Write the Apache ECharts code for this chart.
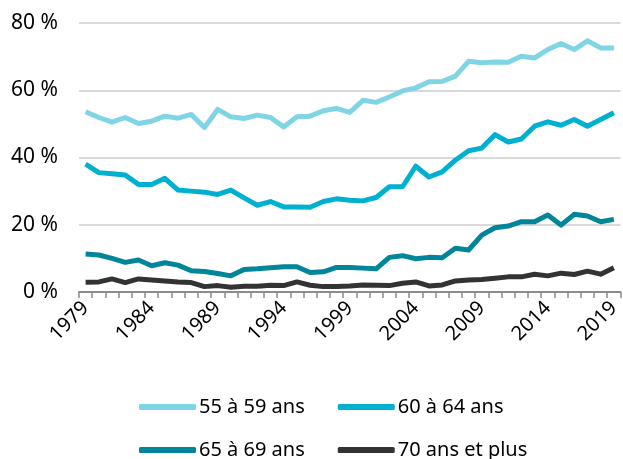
<!DOCTYPE html>
<html>
<head>
<meta charset="utf-8">
<script src="https://cdn.jsdelivr.net/npm/echarts@6/dist/echarts.min.js"></script>
<style>
  html, body { margin: 0; padding: 0; background: #fff; }
  #chart { width: 623px; height: 459px; }
</style>
</head>
<body>
<div id="chart"></div>
<script>
const years = [];
for (let y = 1979; y <= 2019; y++) years.push(String(y));

const yTicks = [0, 20, 40, 60, 80];

const s55 = [53.6, 51.9, 50.5, 51.9, 50.1, 50.8, 52.3, 51.7, 52.8, 48.9,
  54.3, 52.1, 51.6, 52.6, 51.9, 49.1, 52.1, 52.3, 53.9, 54.6,
  53.4, 57.0, 56.4, 58.0, 59.8, 60.7, 62.5, 62.6, 64.2, 68.6,
  68.2, 68.4, 68.3, 70.1, 69.6, 72.1, 73.9, 72.1, 74.7, 72.6, 72.6];
const s60 = [38.0, 35.5, 35.2, 34.8, 32.0, 32.0, 33.8, 30.3, 30.0, 29.7,
  29.0, 30.3, 28.0, 25.8, 26.9, 25.3, 25.3, 25.2, 26.9, 27.7,
  27.3, 27.1, 28.1, 31.3, 31.3, 37.4, 34.2, 35.7, 39.2, 42.0,
  42.8, 46.8, 44.6, 45.5, 49.3, 50.6, 49.6, 51.3, 49.3, 51.3, 53.3];
const s65 = [11.3, 11.0, 10.0, 8.8, 9.5, 7.8, 8.7, 8.0, 6.3, 6.1,
  5.5, 4.8, 6.7, 6.9, 7.2, 7.5, 7.5, 5.8, 6.0, 7.3,
  7.3, 7.1, 6.9, 10.3, 10.8, 9.9, 10.3, 10.2, 13.0, 12.5,
  16.9, 19.1, 19.6, 20.9, 20.9, 22.9, 19.9, 23.1, 22.6, 20.9, 21.6];
const s70 = [2.9, 3.0, 3.9, 2.8, 3.9, 3.6, 3.3, 3.0, 2.8, 1.6,
  1.9, 1.4, 1.7, 1.7, 2.0, 1.9, 3.0, 2.0, 1.6, 1.6,
  1.8, 2.1, 2.0, 1.9, 2.6, 3.0, 1.8, 2.1, 3.3, 3.6,
  3.7, 4.1, 4.5, 4.5, 5.3, 4.8, 5.6, 5.2, 6.2, 5.3, 7.2];

const names = ['55 à 59 ans', '60 à 64 ans', '65 à 69 ans', '70 ans et plus'];
const colors = ['#7fd4e5', '#00b0d0', '#00859a', '#333333'];
const values = [s55, s60, s65, s70];

const font = 'Noto Sans';
const chart = echarts.init(document.getElementById('chart'));

// two legend rows, same left edge so the columns line up
const legendBase = {
  left: 134,
  itemWidth: 57,
  itemHeight: 6,
  itemGap: 33,
  icon: 'roundRect',
  textStyle: { fontFamily: font, fontSize: 20, color: '#000', padding: [0, 0, 0, -2] }
};

const option = {
  animation: false,
  color: colors,
  grid: { left: 79, right: 0, top: 23, bottom: 167 },
  legend: [
    Object.assign({ top: 392, data: names.slice(0, 2) }, legendBase),
    Object.assign({ top: 435, data: names.slice(2) }, legendBase)
  ],
  xAxis: {
    type: 'category',
    data: years,
    axisLine: { lineStyle: { color: '#8c8c8c', width: 2 } },
    axisTick: { show: true, interval: 0, length: 6, lineStyle: { color: '#8c8c8c', width: 1.5 } },
    axisLabel: {
      interval: 4,
      rotate: 45,
      margin: 13,
      fontFamily: font,
      fontSize: 20,
      color: '#000'
    }
  },
  yAxis: {
    type: 'value',
    min: yTicks[0],
    max: yTicks[yTicks.length - 1],
    interval: 20,
    axisLine: { show: false },
    axisTick: { show: false },
    splitLine: { lineStyle: { color: '#d9d9d9', width: 2 } },
    axisLabel: {
      formatter: '{value} %',
      margin: 21,
      fontFamily: font,
      fontSize: 21,
      color: '#000'
    }
  },
  series: names.map((n, i) => ({
    name: n,
    type: 'line',
    data: values[i],
    symbol: 'none',
    lineStyle: { width: 5, color: colors[i], join: 'round' },
    itemStyle: { color: colors[i] }
  }))
};

chart.setOption(option);
</script>
</body>
</html>
